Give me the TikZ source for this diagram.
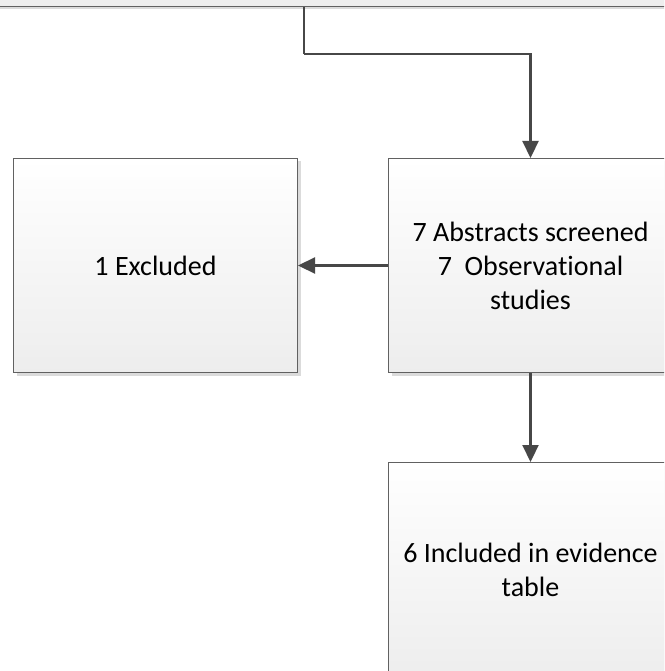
\documentclass[tikz,border=0pt]{standalone}
\usepackage{fontspec}
\setmainfont[Ligatures={NoCommon}]{Carlito}
\usetikzlibrary{arrows.meta,shadows}
\begin{document}
\begin{tikzpicture}[x=1pt,y=-1pt,
  flowbox/.style={draw=black!62, line width=1pt, rectangle, top color=white, bottom color=black!7,
    minimum width=284pt, minimum height=214pt, align=center, inner sep=4pt,
    font=\fontsize{28}{34}\selectfont, text=black,
    drop shadow={shadow xshift=3pt, shadow yshift=-3pt, fill=black!14, opacity=1}},
  arr/.style={draw=black!72, line width=2.2pt, -{Triangle[length=17pt,width=16pt]}},
  link/.style={draw=black!72, line width=2.2pt}]
\useasboundingbox (0,0) rectangle (664,671);
\clip (0,0) rectangle (664,671);
\fill[white] (0,0) rectangle (664,671);
\node[flowbox, minimum width=720pt, minimum height=100pt, anchor=south] (top) at (332,7) {};
\node[flowbox, anchor=north west] (excl) at (13,158) {1 Excluded};
\node[flowbox, anchor=north west] (abs) at (388,158) {7 Abstracts screened\\7\ \ Observational\\studies};
\node[flowbox, anchor=north west] (incl) at (388,462) {6 Included in evidence\\table};
\coordinate (bend) at (304,54);
\draw[link] (top.south -| bend) -- (bend);
\draw[arr] (bend) -| (abs.north);
\draw[arr] (abs.west) -- (excl.east);
\draw[arr] (abs.south) -- (incl.north);
\end{tikzpicture}
\end{document}
